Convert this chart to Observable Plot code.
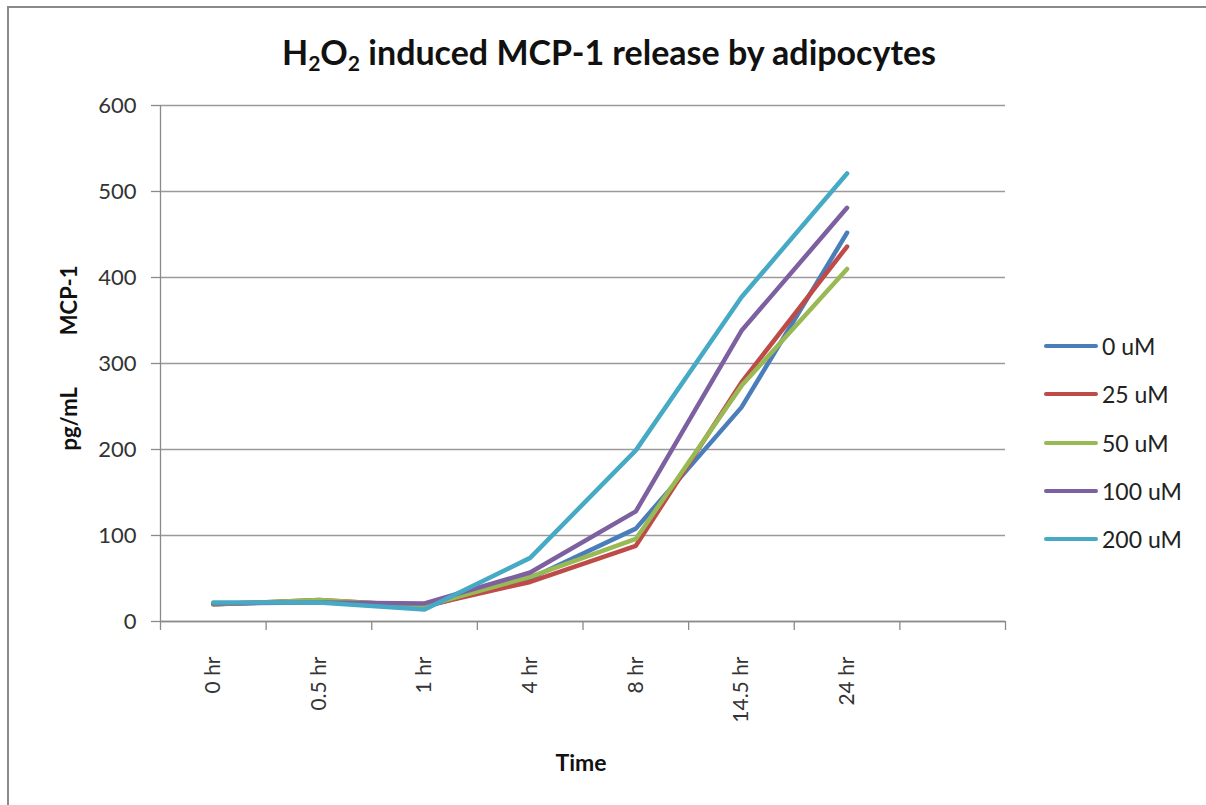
<!DOCTYPE html>
<html><head><meta charset="utf-8">
<script src="https://cdn.jsdelivr.net/npm/d3@7"></script>
<script src="https://cdn.jsdelivr.net/npm/@observablehq/plot@0.6"></script>
<style>
body{margin:0;background:#fff;font-family:Lato,"Open Sans",sans-serif;}
#wrap{position:relative;width:1206px;height:805px;overflow:hidden;background:#fff;}
#frame{position:absolute;left:7px;top:6px;width:1300px;height:900px;border:2.5px solid #8a8a8a;box-sizing:border-box;}
#chart{position:absolute;left:0;top:0;}
#title{position:absolute;left:0;width:1218px;top:31px;text-align:center;font-weight:bold;font-size:34px;color:#111;white-space:nowrap;}
#title sub{font-size:0.62em;vertical-align:-0.3em;line-height:0;}
#ylab{position:absolute;left:68px;top:358px;transform:translate(-50%,-50%) rotate(-90deg);font-weight:bold;font-size:22px;color:#111;white-space:nowrap;}
#ylab span+span{margin-left:52px;}
#xlab{position:absolute;left:581px;top:762px;transform:translate(-50%,-50%);font-weight:bold;font-size:23px;color:#111;}
#legend{position:absolute;left:1044px;top:0;}
.li{position:absolute;left:0;display:flex;align-items:center;white-space:nowrap;font-size:23px;color:#222;transform:translateY(-50%);}
.li .sw{width:54px;height:4.5px;border-radius:3px;margin-right:4px;}
</style></head>
<body>
<div id="wrap">
  <div id="frame"></div>
  <div id="chart"></div>
  <div id="title">H<sub>2</sub>O<sub>2</sub> induced MCP-1 release by adipocytes</div>
  <div id="ylab"><span>pg/mL</span><span>MCP-1</span></div>
  <div id="xlab">Time</div>
  <div id="legend"></div>
</div>
<script>
// Categories (Excel leaves one empty slot at the end of the axis)
const times = ["0 hr", "0.5 hr", "1 hr", "4 hr", "8 hr", "14.5 hr", "24 hr"];
const slotCount = 8;
const series = ["0 uM", "25 uM", "50 uM", "100 uM", "200 uM"];
const colors = ["#4A7EBB", "#BE4B48", "#98B954", "#7D60A0", "#46AAC5"];
// values per series (pg/mL MCP-1)
const v0   = [20, 24, 17, 50, 108, 249, 452];
const v25  = [20, 25, 18, 46, 88, 278, 436];
const v50  = [20, 25, 18, 52, 96, 274, 410];
const v100 = [21, 22, 21, 57, 128, 338, 481];
const v200 = [22, 22, 14, 74, 199, 377, 521];
const yTicks = [0, 100, 200, 300, 400, 500, 600];

const valueSets = [v0, v25, v50, v100, v200];
const rows = [];
series.forEach((s, si) => valueSets[si].forEach((v, i) => rows.push({series: s, time: times[i], idx: i, value: v})));

const labelFont = "Lato, 'Open Sans', sans-serif";
const chart = Plot.plot({
  width: 1206,
  height: 805,
  marginLeft: 160,
  marginRight: 201,
  marginTop: 105,
  marginBottom: 184,
  style: {fontFamily: labelFont, background: "transparent"},
  x: {type: "linear", domain: [0, slotCount]},
  y: {domain: [0, 600]},
  color: {domain: series, range: colors},
  marks: [
    Plot.gridY(yTicks, {stroke: "#9a9a9a", strokeOpacity: 1, strokeWidth: 1.3}),
    Plot.axisY(yTicks, {tickSize: 9, tickPadding: 15, stroke: "#8a8a8a", strokeWidth: 1.3, fontSize: 22, fill: "#333", label: null}),
    Plot.axisX(d3.range(slotCount + 1), {tickSize: 9, tickFormat: () => "", stroke: "#8a8a8a", strokeWidth: 1.3, label: null}),
    Plot.axisX(times.map((t, i) => i + 0.5), {tickSize: 0, tickPadding: 35, tickRotate: -90, tickFormat: d => times[Math.round(d - 0.5)], fontSize: 21, fill: "#333", label: null}),
    Plot.ruleX([0], {stroke: "#8a8a8a", strokeWidth: 1.3}),
    Plot.ruleY([0], {stroke: "#8a8a8a", strokeWidth: 1.3}),
    Plot.line(rows, {x: d => d.idx + 0.5, y: "value", z: "series", stroke: "series", strokeWidth: 4.5, strokeLinecap: "round", strokeLinejoin: "round"})
  ]
});
document.getElementById("chart").appendChild(chart);

// legend
const legendY = [346, 394, 443, 491, 539];
const lg = document.getElementById("legend");
series.forEach((s, i) => {
  const d = document.createElement("div");
  d.className = "li";
  d.style.top = legendY[i] + "px";
  d.innerHTML = `<span class="sw" style="background:${colors[i]}"></span><span>${s}</span>`;
  lg.appendChild(d);
});
</script>
</body></html>
